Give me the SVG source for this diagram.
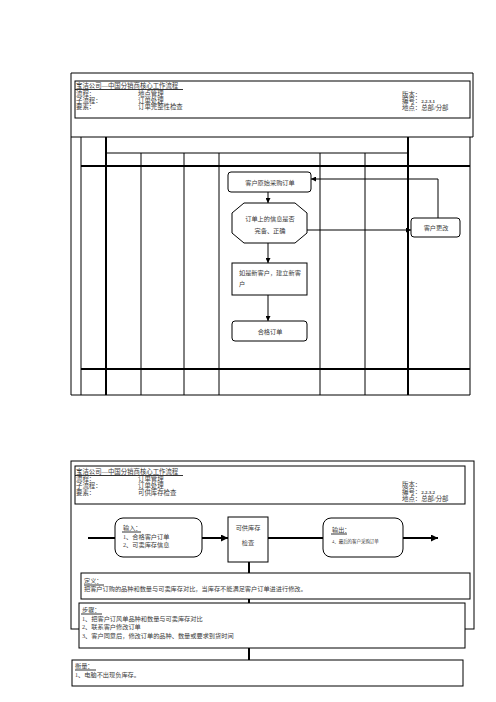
<svg xmlns="http://www.w3.org/2000/svg" width="496" height="702" viewBox="0 0 496 702">
<style>
text{font-family:"Liberation Serif","Noto Sans CJK SC",serif;fill:#3a3a3a;font-size:6.2px}
.h{font-size:6.4px}
.c{text-anchor:middle}
.ln{stroke:#000;stroke-width:1;fill:none}
.tk{stroke:#000;stroke-width:2;fill:none}
.box{fill:#fff;stroke:#000;stroke-width:1}
.ul{stroke:#000;stroke-width:0.8}
</style>
<defs>
<marker id="a" viewBox="0 0 10 10" refX="10" refY="5" markerWidth="5" markerHeight="5" orient="auto" markerUnits="userSpaceOnUse"><path d="M0,0L10,5L0,10z" fill="#000"/></marker>
<marker id="b" viewBox="0 0 10 10" refX="10" refY="5" markerWidth="7" markerHeight="7" orient="auto" markerUnits="userSpaceOnUse"><path d="M0,0L10,5L0,10z" fill="#000"/></marker>
</defs>
<rect width="496" height="702" fill="#fff"/>

<!-- Block 1 frame and table -->
<g id="frame1">
<path class="ln" d="M71,395V73H473V137"/>
<rect class="box" x="75" y="81" width="395" height="37"/>
<line class="ln" x1="71" y1="137" x2="473" y2="137"/>
<line class="ln" x1="81" y1="137" x2="81" y2="395"/>
<line class="ln" x1="470" y1="137" x2="470" y2="395"/>
<line class="ln" x1="71" y1="395" x2="470" y2="395"/>
<line class="ln" x1="106" y1="153" x2="408" y2="153"/>
<line class="tk" x1="81" y1="166" x2="470" y2="166"/>
<line class="tk" x1="81" y1="369" x2="470" y2="369"/>
<line class="tk" x1="106" y1="137" x2="106" y2="395"/>
<line class="tk" x1="408" y1="137" x2="408" y2="395"/>
<line class="ln" x1="141" y1="153" x2="141" y2="395"/>
<line class="ln" x1="184" y1="153" x2="184" y2="395"/>
<line class="ln" x1="219" y1="153" x2="219" y2="395"/>
<line class="ln" x1="320" y1="153" x2="320" y2="395"/>
<line class="ln" x1="365" y1="153" x2="365" y2="395"/>
</g>
<g id="header1">
<text class="h" x="76" y="88">宝洁公司—中国分销商核心工作流程</text>
<line class="ul" x1="75" y1="89.5" x2="183" y2="89.5"/>
<text class="h" x="76" y="96">流程：</text>
<text class="h" x="138" y="96">地点管理</text>
<text class="h" x="402" y="97">版本：</text>
<text class="h" x="76" y="102.5">子流程：</text>
<text class="h" x="138" y="102.5">订单处理</text>
<text class="h" x="402" y="103">编号：<tspan font-weight="bold" font-size="5">2.2.3.1</tspan></text>
<text class="h" x="76" y="109">要素：</text>
<text class="h" x="138" y="109">订单完整性检查</text>
<text class="h" x="402" y="110">地点：总部/分部</text>
</g>

<!-- Connectors block 1 -->
<g id="connectors1">
<line class="ln" x1="268" y1="192" x2="268" y2="203" marker-end="url(#a)"/>
<line class="ln" x1="268" y1="243" x2="268" y2="263" marker-end="url(#a)"/>
<line class="ln" x1="268" y1="295" x2="268" y2="321" marker-end="url(#a)"/>
<line class="ln" x1="307" y1="230" x2="411" y2="230" marker-end="url(#a)"/>
<path class="ln" d="M438,218V179H311" marker-end="url(#a)"/>
</g>

<g id="n1">
<rect class="box" x="228" y="172" width="83" height="20" rx="3"/>
<text class="c" x="270" y="185">客户原始采购订单</text>
</g>
<g id="n2">
<polygon class="box" points="244,203 295,203 307,213 307,233 295,243 244,243 232,233 232,213"/>
<text class="c" x="270" y="221">订单上的信息是否</text>
<text class="c" x="270" y="233">完备、正确</text>
</g>
<g id="n3">
<rect class="box" x="232" y="263" width="75" height="32"/>
<text x="239" y="275">如是新客户，建立新客</text>
<text x="239" y="286">户</text>
</g>
<g id="n4">
<rect class="box" x="232" y="321" width="75" height="20" rx="3"/>
<text class="c" x="270" y="333.5">合格订单</text>
</g>
<g id="n5">
<rect class="box" x="411" y="218" width="49" height="19" rx="3"/>
<text class="c" x="436" y="230">客户更改</text>
</g>

<!-- Block 2 -->
<g id="frame2">
<rect class="ln" x="71" y="461" width="403" height="168"/>
<rect class="box" x="75" y="466" width="390" height="38"/>
</g>
<g id="header2">
<text class="h" x="76" y="474">宝洁公司—中国分销商核心工作流程</text>
<line class="ul" x1="75" y1="475.5" x2="183" y2="475.5"/>
<text class="h" x="76" y="481">流程：</text>
<text class="h" x="138" y="481">订单管理</text>
<text class="h" x="76" y="488">子流程：</text>
<text class="h" x="138" y="488">订单处理</text>
<text class="h" x="76" y="495">要素：</text>
<text class="h" x="138" y="495">可供库存检查</text>
<text class="h" x="402" y="487">版本：</text>
<text class="h" x="402" y="494">编号：<tspan font-weight="bold" font-size="5">2.2.3.2</tspan></text>
<text class="h" x="402" y="501">地点：总部/分部</text>
</g>

<g id="connectors2">
<line class="tk" x1="88" y1="538" x2="115" y2="538"/>
<line class="tk" x1="202" y1="538" x2="228" y2="538" marker-end="url(#b)"/>
<line class="tk" x1="268" y1="538" x2="323" y2="538"/>
<line class="tk" x1="403" y1="538" x2="438" y2="538" marker-end="url(#b)"/>
<line class="tk" x1="249" y1="562" x2="249" y2="603"/>
<line class="tk" x1="249" y1="648" x2="249" y2="660"/>
</g>

<g id="input">
<rect class="box" x="115" y="518" width="87" height="39" rx="8"/>
<text x="123" y="530">输入：</text>
<line class="ul" x1="122" y1="532" x2="141" y2="532"/>
<text x="123" y="539">1、合格客户订单</text>
<text x="123" y="546.5">2、可卖库存信息</text>
</g>
<g id="check">
<rect class="box" x="228" y="517" width="40" height="45"/>
<text class="c" x="248" y="530">可供库存</text>
<text class="c" x="248" y="545">检查</text>
</g>
<g id="output">
<rect class="box" x="323" y="518" width="80" height="39" rx="8"/>
<text x="332" y="532">输出：</text>
<line class="ul" x1="331" y1="534" x2="347" y2="534"/>
<text transform="translate(332,543) scale(0.72)" x="0" y="0">4、最后的客户采购订单</text>
</g>
<g id="definition">
<rect class="box" x="81" y="573" width="389" height="26"/>
<text x="84" y="583">定义：</text>
<line class="ul" x1="84" y1="585" x2="104" y2="585"/>
<text x="84" y="590.5">把客户订购的品种和数量与可卖库存对比，当库存不能满足客户订单进进行修改。</text>
</g>
<g id="steps">
<rect class="box" x="79" y="603" width="386" height="45"/>
<text x="82" y="612">步骤：</text>
<line class="ul" x1="81" y1="614" x2="102" y2="614"/>
<text x="82" y="620.5">1、把客户订风单品种和数量与可卖库存对比</text>
<text x="82" y="629">2、联系客户修改订单</text>
<text x="82" y="638">3、客户同意后，修改订单的品种、数量或要求到货时间</text>
</g>
<g id="measure">
<rect class="box" x="72" y="660" width="391" height="26"/>
<text x="75" y="668">衡量：</text>
<line class="ul" x1="75" y1="670" x2="96" y2="670"/>
<text x="75" y="677">1、电脑不出现负库存。</text>
</g>
</svg>
